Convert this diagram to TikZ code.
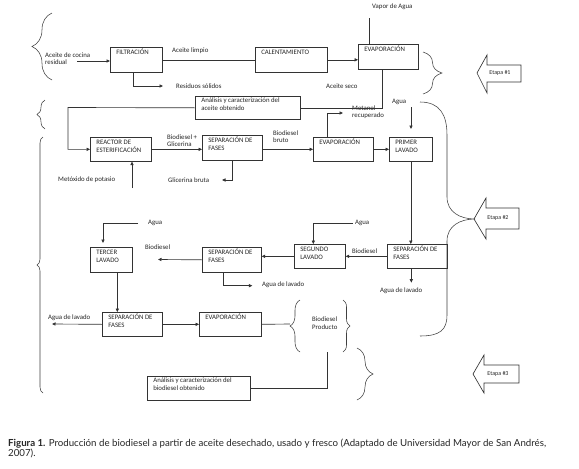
\documentclass[tikz,border=0pt]{standalone}
\usepackage{fontspec}
\setmainfont{Carlito}
\newfontfamily\capfont{Lato}
\usetikzlibrary{decorations.pathreplacing,arrows.meta,calc}
\newcommand{\bxt}[3]{\parbox[c][#2][t]{#1}{\raggedright\leftskip=6pt\parindent=0pt\vspace*{1.5pt}\strut #3}}
\begin{document}
\begin{tikzpicture}[x=1pt,y=-1pt,
  ln/.style={draw=black!80, line width=0.65pt},
  arr/.style={ln, -{Triangle[length=3.5pt,width=3.2pt]}},
  txt/.style={inner sep=0pt, font=\fontsize{6.8}{7.6}\selectfont, align=left, text=black!85},
  box/.style={draw=black!80, line width=0.65pt, inner sep=0pt, anchor=north west, font=\fontsize{6.8}{8.2}\selectfont, text=black!85},
  brc/.style={draw=black!75, line width=0.55pt, decorate, decoration={brace, amplitude=#1}},
  etapa/.style={draw=black!80, line width=0.65pt},
  etxt/.style={inner sep=0pt, font=\fontsize{6}{6.5}\selectfont, text=black!85}]
\useasboundingbox (0,0) rectangle (579,469);
\fill[white] (0,0) rectangle (579,469);

% boxes
\node[box] (filt) at (110,47) {\bxt{52pt}{25pt}{FILTRACIÓN}};
\node[box] (calent) at (255,47) {\bxt{72pt}{25pt}{CALENTAMIENTO}};
\node[box] (evap1) at (358,44) {\bxt{60pt}{25pt}{EVAPORACIÓN}};
\node[box] (anal1) at (195,96) {\parbox[c][23pt][t]{105pt}{\raggedright\leftskip=6pt\parindent=0pt\vspace*{0pt}\strut Análisis y caracterización del\\aceite obtenido}};
\node[box] (reactor) at (90,137) {\bxt{61pt}{24pt}{REACTOR DE\\ESTERIFICACIÓN}};
\node[box] (sep1) at (202,135) {\bxt{60pt}{25pt}{SEPARACIÓN DE\\FASES}};
\node[box] (evap2) at (313,137) {\bxt{60pt}{24pt}{EVAPORACIÓN}};
\node[box] (primer) at (389,137) {\bxt{43pt}{24pt}{PRIMER\\LAVADO}};
\node[box] (segundo) at (294,244) {\bxt{51pt}{24pt}{SEGUNDO\\LAVADO}};
\node[box] (sep2) at (387,244) {\bxt{60pt}{24pt}{SEPARACIÓN DE\\FASES}};
\node[box] (sep3) at (202,247) {\bxt{59pt}{25pt}{SEPARACIÓN DE\\FASES}};
\node[box] (tercer) at (90,247) {\bxt{42pt}{25pt}{TERCER\\LAVADO}};
\node[box] (sep4) at (102,312) {\bxt{60pt}{24pt}{SEPARACIÓN DE\\FASES}};
\node[box] (evap3) at (199,312) {\bxt{62pt}{24pt}{EVAPORACIÓN}};
\node[box] (anal2) at (147,376) {\parbox[c][24pt][t]{103pt}{\raggedright\leftskip=6pt\parindent=0pt\vspace*{0.5pt}\strut Análisis y caracterización del\\biodiesel obtenido}};

% free labels
\node[txt, anchor=west] (acr) at (45,58.7) {Aceite de cocina\\residual};
\node[txt, anchor=west] (alimp) at (172,51) {Aceite limpio};
\node[txt, anchor=west] (vap) at (372,7) {Vapor de Agua};
\node[txt, anchor=west] (res) at (176,86) {Residuos sólidos};
\node[txt, anchor=west] (aseco) at (326,86) {Aceite seco};
\node[txt, anchor=west] (met) at (58,180) {Metóxido de potasio};
\node[txt, anchor=west] (bg) at (167,140.5) {Biodiesel +\\Glicerina};
\node[txt, anchor=west] (glib) at (168,180) {Glicerina bruta};
\node[txt, anchor=west] (bbr) at (273,136.5) {Biodiesel\\bruto};
\node[txt, anchor=west] (metrec) at (352,112) {Metanol\\recuperado};
\node[txt, anchor=west] (agua1) at (392,102) {Agua};
\node[txt, anchor=west] (agua2) at (355,223) {Agua};
\node[txt, anchor=west] (bio2) at (352,251) {Biodiesel};
\node[txt, anchor=west] (agl2) at (380,291) {Agua de lavado};
\node[txt, anchor=west] (agl3) at (262,285) {Agua de lavado};
\node[txt, anchor=west] (bio3) at (145,247) {Biodiesel};
\node[txt, anchor=west] (agua3) at (148,223) {Agua};
\node[txt, anchor=west] (agl4) at (48,318) {Agua de lavado};
\node[txt, anchor=west] (bprod) at (312,323) {Biodiesel\\Producto};

% coordinates
\coordinate (acrE) at (77,61);
\coordinate (vapB) at (369,18);
\coordinate (resA) at (163,86);
\coordinate (c1) at (68,107.5);
\coordinate (metA) at (132,188);
\coordinate (glyA) at (222,180);
\coordinate (metR) at (343,113);
\coordinate (aguaA) at (411,107);
\coordinate (aguaB) at (411,129);
\coordinate (ag2A) at (353,223);
\coordinate (ag3A) at (138,223);
\coordinate (ag3B) at (103,243);
\coordinate (bioA) at (158,259.5);
\coordinate (agl4A) at (52,324);
\coordinate (bpL) at (290,324);
\coordinate (bpB) at (327,352);
\coordinate (t3s) at ([xshift=6pt]tercer.south);

% connectors
\draw[arr] (acrE) -- (acrE -| filt.west);
\draw[ln] (filt) -- (calent);
\draw[arr] (calent.east) -- (calent.east -| evap1.west);
\draw[ln] (vapB) -- (vapB |- evap1.north);
\draw[arr] ([xshift=-3pt]filt.south) |- (resA);
\draw[ln] ([xshift=-6pt]evap1.south) |- (anal1.east);
\draw[arr] (anal1.west) -- (c1) |- (reactor.west);
\draw[arr] (metA) -- (metA |- reactor.south);
\draw[arr] (reactor.east) -- (reactor.east -| sep1.west);
\draw[arr] (sep1.south) |- (glyA);
\draw[arr] (sep1.east |- evap2.west) -- (evap2.west);
\draw[arr] ([xshift=-16pt]evap2.north) |- (metR);
\draw[arr] (evap2) -- (primer);
\draw[arr] (aguaA) -- (aguaB);
\draw[arr] (primer.south) -- (primer.south |- sep2.north);
\draw[arr] (sep2) -- (segundo);
\draw[arr] ([xshift=-6pt]sep2.south) -- ++(0,14);
\draw[arr] (ag2A) -| ([xshift=-6.5pt]segundo.north);
\draw[arr] (segundo.west) -- (segundo.west -| sep3.east);
\draw[arr] ([xshift=-8.5pt]sep3.south) |- ++(29,13);
\draw[arr] (sep3.west) -- (bioA);
\draw[arr] (ag3A) -| (ag3B);
\draw[arr] (t3s) -- (t3s |- sep4.north);
\draw[arr] (sep4.west) -- (agl4A);
\draw[arr] (sep4) -- (evap3);
\draw[ln] (evap3.east) -- (bpL);
\draw[ln] (anal2.east) -| (bpB);

% braces
\draw[brc=20] (52,80) -- (52,13);
\draw[brc=8] (45,129) -- (45,100);
\draw[brc=6] (43,393) -- (43,137);
\draw[brc=19] (423,52) -- (423,94);
\draw[brc=16] (357,348) -- (357,400);
\draw[brc=10] (300,352) -- (300,300);
\draw[brc=7] (343,300) -- (343,352);
\draw[draw=black!75, line width=0.55pt] (420,102) .. controls (440,102) and (447,115) .. (447,135) -- (447,197) .. controls (447,212) and (460,219) .. (475,219) .. controls (460,219) and (447,226) .. (447,241) -- (447,315) .. controls (447,330) and (440,336) .. (420,336);

% etapa arrows
\draw[etapa] (477,73) -- (487,55) -- (487,65) -- (521,65) -- (521,82) -- (487,82) -- (487,93) -- cycle;
\node[etxt] (et1) at (500,73) {Etapa \#1};
\draw[etapa] (474,219) -- (486,198) -- (486,208) -- (519,208) -- (519,229) -- (486,229) -- (486,239) -- cycle;
\node[etxt] (et2) at (498,218) {Etapa \#2};
\draw[etapa] (473,374) -- (484,355) -- (484,365) -- (519,365) -- (519,383) -- (484,383) -- (484,393) -- cycle;
\node[etxt] (et3) at (498,374) {Etapa \#3};

% caption
\node[anchor=north west, inner sep=0pt, align=left, text=black!85, font=\capfont\fontsize{9.7}{10.2}\selectfont] (cap) at (8,438.5) {\textbf{Figura 1.} Producción de biodiesel a partir de aceite desechado, usado y fresco (Adaptado de Universidad Mayor de San Andrés,\\2007).};
\end{tikzpicture}
\end{document}
